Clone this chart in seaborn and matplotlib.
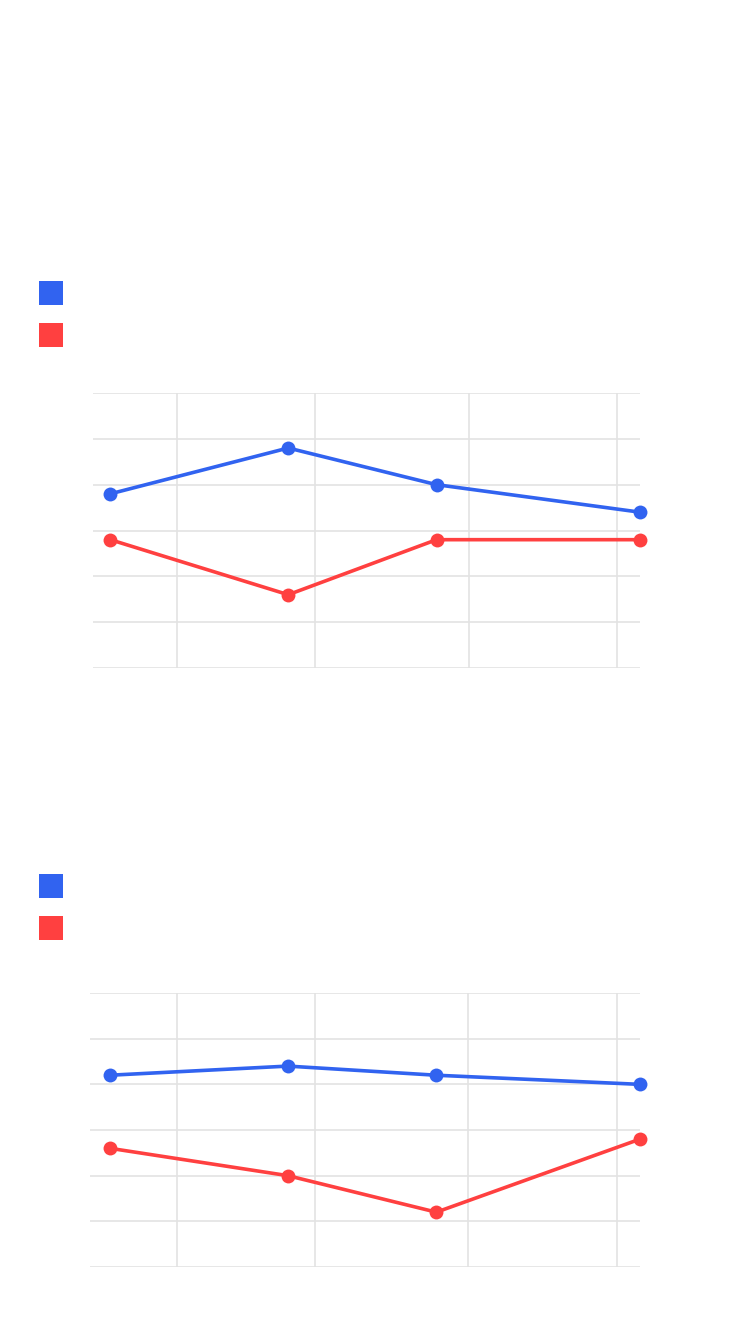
import matplotlib
matplotlib.use("Agg")
import matplotlib.pyplot as plt
from matplotlib.lines import Line2D
import pandas as pd
import seaborn as sns

# Data
dates = pd.to_datetime(["2023-01-18 12:00", "2023-02-23 12:00",
                        "2023-03-25 12:00", "2023-05-05 16:00"])
series_names = ["Series A", "Series B"]
top_a = [38, 48, 40, 34]
top_b = [28, 16, 28, 28]
bottom_a = [42, 44, 42, 40]
bottom_b = [26, 20, 12, 28]
y_ticks = [0, 10, 20, 30, 40, 50, 60]
x_ticks = pd.to_datetime(["2023-02-01", "2023-03-01", "2023-04-01", "2023-05-01"])

blue = "#3163F0"
red = "#FF4040"
grid_color = "#E3E3E3"

sns.set_style("white")

fig = plt.figure(figsize=(7.5, 13.38), dpi=100)


def draw_panel(rect, a, b, x_left, legend_y):
    ax = fig.add_axes(rect)
    df = pd.DataFrame({
        "date": list(dates) * 2,
        "value": a + b,
        "series": [series_names[0]] * len(a) + [series_names[1]] * len(b),
    })
    sns.lineplot(data=df, x="date", y="value", hue="series",
                 palette=[blue, red], marker="o", markersize=10,
                 markeredgewidth=0, linewidth=2.6, legend=False, ax=ax,
                 clip_on=False, zorder=3)
    ax.set_xlim(pd.Timestamp(x_left), dates[-1])
    ax.set_ylim(y_ticks[0], y_ticks[-1])
    ax.set_yticks(y_ticks)
    ax.set_xticks(x_ticks)
    ax.grid(True, color=grid_color, linewidth=1.2)
    ax.tick_params(left=False, bottom=False, labelleft=False, labelbottom=False)
    for s in ax.spines.values():
        s.set_visible(False)
    ax.set_xlabel("")
    ax.set_ylabel("")

    # legend squares without text
    handles = [Line2D([], [], linestyle="none", marker="s", markersize=17.3,
                      markerfacecolor=c, markeredgewidth=0) for c in (blue, red)]
    fig.legend(handles, ["", ""], loc="upper left",
               bbox_to_anchor=(0.04, legend_y), frameon=False,
               fontsize=12, handleheight=1.5, handlelength=1.5,
               labelspacing=1.3, borderpad=0, handletextpad=0)
    return ax


draw_panel([0.124, 0.5007, 0.7293, 0.2056], top_a, top_b,
           "2023-01-15", 1 - 277 / 1338)
draw_panel([0.12, 0.0531, 0.7333, 0.2047], bottom_a, bottom_b,
           "2023-01-14 12:00", 1 - 870 / 1338)

fig.savefig("out.png", dpi=100)
